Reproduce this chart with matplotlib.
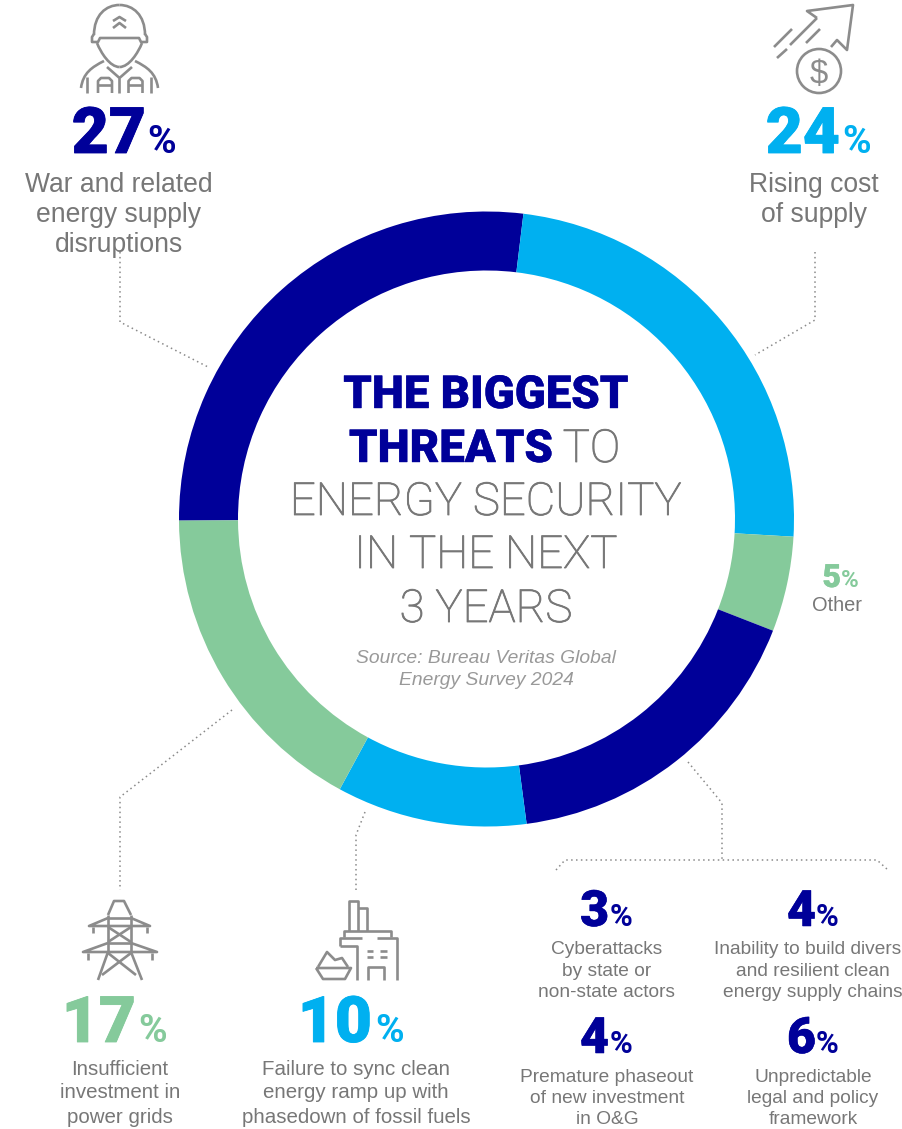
import matplotlib
matplotlib.use('Agg')
import matplotlib.pyplot as plt
import matplotlib.patheffects as pe
from matplotlib.path import Path
from matplotlib.patches import PathPatch, Circle

W, H = 903, 1129
NAVY = '#000099'
BLUE = '#00B0F0'
GREEN = '#85CA9B'
GRAY = '#777777'
ICON = '#8C8C8C'
DOTS = '#8A8A8A'

# survey shares, clockwise from the nine o'clock position
ring_shares = [27, 24, 5, 17, 10, 17]
ring_colors = [NAVY, BLUE, GREEN, NAVY, BLUE, GREEN]

big_values = [27, 24, 17, 10]
big_colors = [NAVY, BLUE, GREEN, BLUE]
big_labels = [
    ['War and related', 'energy supply', 'disruptions'],
    ['Rising cost', 'of supply'],
    ['Insufficient', 'investment in', 'power grids'],
    ['Failure to sync clean', 'energy ramp up with', 'phasedown of fossil fuels'],
]

small_values = [3, 4, 4, 6]
small_labels = [
    ['Cyberattacks', 'by state or', 'non-state actors'],
    ['Inability to build divers', 'and resilient clean', 'energy supply chains'],
    ['Premature phaseout', 'of new investment', 'in O&G'],
    ['Unpredictable', 'legal and policy', 'framework'],
]

fig = plt.figure(figsize=(W / 100, H / 100), dpi=100, facecolor='white')

# donut in its own axes, placed by pixel box
cx, cy, R = 486.5, 519, 307.5
ax_pie = fig.add_axes([(cx - R) / W, 1 - (cy + R) / H, 2 * R / W, 2 * R / H])
ax_pie.pie(ring_shares, colors=ring_colors, startangle=180.3, counterclock=False,
           radius=1, wedgeprops={'width': 59 / R, 'linewidth': 0})
ax_pie.set_xlim(-1, 1)
ax_pie.set_ylim(-1, 1)
ax_pie.axis('off')

# everything else is laid out in pixels, y going down
ax = fig.add_axes([0, 0, 1, 1], facecolor='none')
ax.set_xlim(0, W)
ax.set_ylim(H, 0)
ax.axis('off')


def px(size):
    return size * 0.72


def label(lines, x, baselines, size=20.5, **kw):
    for line, y in zip(lines, baselines):
        ax.text(x, y, line, ha='center', va='baseline', fontsize=px(size),
                family='Liberation Sans', color=kw.get('color', GRAY),
                style=kw.get('style', 'normal'))


def percent(value, x, pct_x, y, size, pct_size, color, heavy=0.6):
    # number right-aligned on x, the sign placed separately
    ax.text(x, y, str(value), ha='right', va='baseline', fontsize=px(size), color=color,
            family='Roboto', weight='black',
            path_effects=[pe.withStroke(linewidth=heavy, foreground=color)])
    ax.text(pct_x, y, '%', ha='left', va='baseline', fontsize=px(pct_size), color=color,
            family='Roboto', weight='bold')


def line(*pts, lw=1.9, color=ICON, **kw):
    ax.plot([p[0] for p in pts], [p[1] for p in pts], color=color, lw=lw,
            solid_capstyle='butt', solid_joinstyle='round', **kw)


def curve(p0, c1, c2, p1, lw=1.9):
    path = Path([p0, c1, c2, p1], [Path.MOVETO, Path.CURVE4, Path.CURVE4, Path.CURVE4])
    ax.add_patch(PathPatch(path, fc='none', ec=ICON, lw=lw))


def dotted(*pts):
    ax.plot([p[0] for p in pts], [p[1] for p in pts], color=DOTS, lw=1.1,
            linestyle=(0, (1, 2.2)))


# leader lines
dotted((120, 252), (120, 322), (210, 368))
dotted((815, 252), (815, 320), (755, 355))
dotted((232, 710), (120, 797), (120, 890))
dotted((365, 812), (356, 835), (356, 890))
dotted((688, 762), (722, 803), (722, 859))
dotted((556, 870), (565, 860), (877, 860), (888, 870))

# big figures
percent(big_values[0], 146, 147, 153, 64, 39, big_colors[0])
label(big_labels[0], 119, [192, 222, 252], size=26.5)
percent(big_values[1], 840, 842, 153, 64, 39, big_colors[1])
label(big_labels[1], 814, [192, 222], size=26.5)
percent(big_values[2], 136, 138, 1042, 64, 39, big_colors[2])
label(big_labels[2], 120, [1075, 1098, 1123])
percent(big_values[3], 372, 375, 1042, 64, 39, big_colors[3])
label(big_labels[3], 356, [1075, 1098, 1123])

# breakdown of the lower navy segment
percent(small_values[0], 609, 610, 926, 50, 31, NAVY, 0.4)
label(small_labels[0], 607, [954, 976, 997], size=19.2)
percent(small_values[1], 816, 816, 926, 50, 31, NAVY, 0.4)
label(small_labels[1], 808, [954], size=19.2)
label(small_labels[1][1:], 813, [976, 997], size=19.2)
percent(small_values[2], 609, 610, 1053, 50, 31, NAVY, 0.4)
label(small_labels[2], 607, [1082, 1103, 1124], size=19.2)
percent(small_values[3], 816, 816, 1053, 50, 31, NAVY, 0.4)
label(small_labels[3], 813, [1082, 1103, 1124], size=19.2)

percent(5, 841, 841, 587, 32, 24, GREEN, 0.3)
label(['Other'], 837, [611], size=20)

# centre title
for text, x, y in [('THE BIGGEST', 486, 408), ('THREATS', 451, 462)]:
    ax.text(x, y, text, ha='center', va='baseline', fontsize=px(45.5), color=NAVY,
            family='Roboto', weight='black',
            path_effects=[pe.withStroke(linewidth=0.3, foreground=NAVY)])
for text, x, y in [('TO', 591.5, 462), ('ENERGY SECURITY', 486, 515),
                   ('IN THE NEXT', 486, 568), ('3 YEARS', 486, 622)]:
    ax.text(x, y, text, ha='center', va='baseline', fontsize=px(45.5), color=GRAY,
            family='Roboto', weight='light',
            path_effects=[pe.withStroke(linewidth=0.6, foreground=GRAY)])
label(['Source: Bureau Veritas Global', 'Energy Survey 2024'], 486, [663, 685],
      size=19.3, color='#999999', style='italic')

# helmeted figure
curve((94, 35), (94, 15), (106, 5), (119.5, 5))
curve((119.5, 5), (133, 5), (145, 15), (145, 35))
line((94, 34), (92, 37), (92, 42), (98, 42), (100, 38), (139, 38), (141, 42), (147, 42), (147, 37), (145, 34))
curve((97, 43), (101, 53), (110, 67), (119.5, 67))
curve((119.5, 67), (129, 67), (138, 53), (142, 43))
line((113, 21), (119.5, 17), (126, 21))
line((113, 28), (119.5, 23), (126, 28))
curve((81, 88), (83, 73), (92, 67), (104, 61))
curve((158, 88), (156, 73), (147, 67), (135, 61))
line((107, 67), (119.5, 78), (132, 67))
line((119.5, 78), (119.5, 93))
line((87.5, 77), (87.5, 93))
line((151.5, 77), (151.5, 93))
for x0 in (98, 128.5):
    line((x0, 93), (x0, 81), (x0 + 3, 78), (x0 + 11, 78), (x0 + 14, 81), (x0 + 14, 93))
    line((x0, 85), (x0 + 14, 85))

# rising arrow and coin
line((817, 18), (807, 11), (853, 5), (847, 50), (837, 40), (831, 47))
line((817, 18), (790, 45))
line((787, 49), (777, 58))
line((792, 29), (774, 47))
line((820, 29), (806, 43))
ax.add_patch(Circle((819, 71), 22, fc='none', ec=ICON, lw=1.9))
ax.text(819, 83, '$', ha='center', va='baseline', fontsize=px(33), color=ICON,
        family='Liberation Sans')

# pylon
line((108, 915), (114, 901), (124, 901), (131, 915))
line((108, 915), (108, 952))
line((131, 915), (131, 952))
line((108, 918), (131, 918))
line((108, 918), (89, 926), (150, 926), (131, 918))
line((108, 927), (131, 942))
line((131, 927), (108, 942))
line((108, 943), (131, 943))
line((108, 943), (83, 952), (157, 952), (131, 943))
line((108, 952), (98, 980))
line((131, 952), (142, 980))
line((108, 953), (136, 975))
line((131, 953), (102, 975))
line((93, 927), (93, 933))
line((147, 927), (147, 933))
line((88, 953), (88, 960))
line((152, 953), (152, 960))

# plant and coal
line((349.5, 931), (349.5, 901), (358, 901), (358, 931))
line((358, 908), (367, 908), (367, 931))
line((344, 937), (344, 931), (391, 931), (391, 937))
line((340, 946), (340, 938), (362, 938))
line((377, 938), (397, 938), (397, 980))
line((340, 946), (357, 946), (357, 980))
line((367, 951), (373, 951))
line((380, 951), (387, 951))
line((367, 957), (373, 957))
line((380, 957), (387, 957))
line((368, 980), (368, 967), (384, 967), (384, 980))
line((316, 968), (351, 968), (345, 979), (323, 979), (316, 968))
line((318, 967), (327, 952), (335, 960), (342, 958), (348, 967))

fig.savefig('out.png', dpi=100)
